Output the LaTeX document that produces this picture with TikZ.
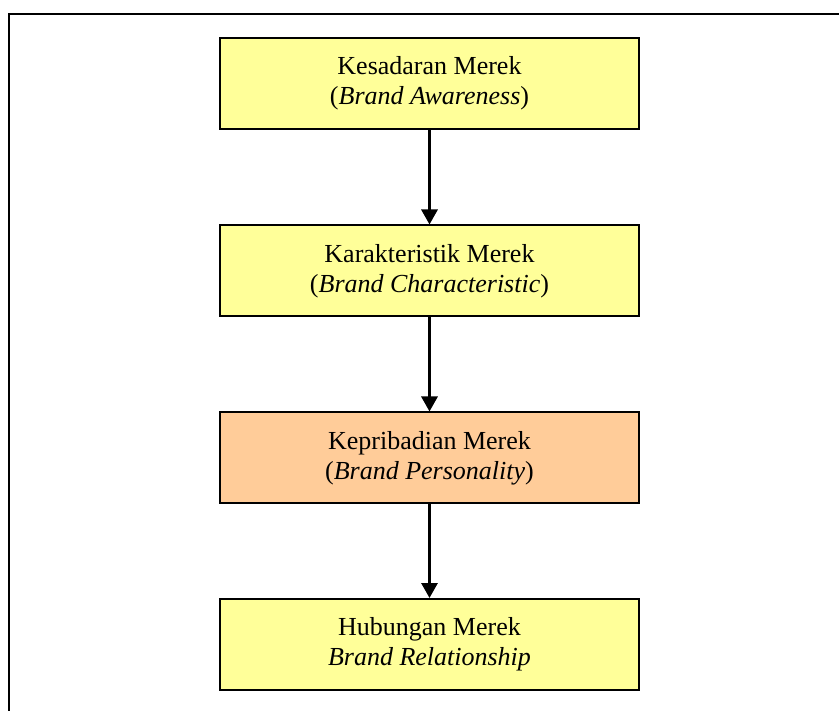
\documentclass[tikz,border=0pt]{standalone}
\usepackage{fontspec}
\setmainfont{Liberation Serif}
\usetikzlibrary{arrows.meta}

\begin{document}
\begin{tikzpicture}[x=1pt, y=-1pt,
  stage/.style={draw, line width=2pt, minimum width=419pt, minimum height=91pt,
    inner sep=0pt, align=center, font=\fontsize{26}{30}\selectfont},
  flow/.style={line width=3pt, -{Triangle[length=15pt, width=16pt]}}]

\useasboundingbox (0,0) rectangle (839,711);

% ---------- Outer frame (cut off right and bottom) ----------
\draw[line width=2.5pt] (839,14) -- (9,14) -- (9,711);

% ---------- Stages ----------
\node[stage, fill={rgb,255:red,255;green,255;blue,153}] (aware) at (429.5,83.5)
  {Kesadaran Merek\\(\textit{Brand Awareness})};
\node[stage, fill={rgb,255:red,255;green,255;blue,153}] (charac) at (429.5,271)
  {Karakteristik Merek\\(\textit{Brand Characteristic})};
\node[stage, fill={rgb,255:red,255;green,204;blue,153}] (person) at (429.5,458)
  {Kepribadian Merek\\(\textit{Brand Personality})};
\node[stage, fill={rgb,255:red,255;green,255;blue,153}] (relat) at (429.5,644.5)
  {Hubungan Merek\\\textit{Brand Relationship}};

% Arrows between stages
\draw[flow] (aware) -- (charac);
\draw[flow] (charac) -- (person);
\draw[flow] (person) -- (relat);

\end{tikzpicture}
\end{document}
